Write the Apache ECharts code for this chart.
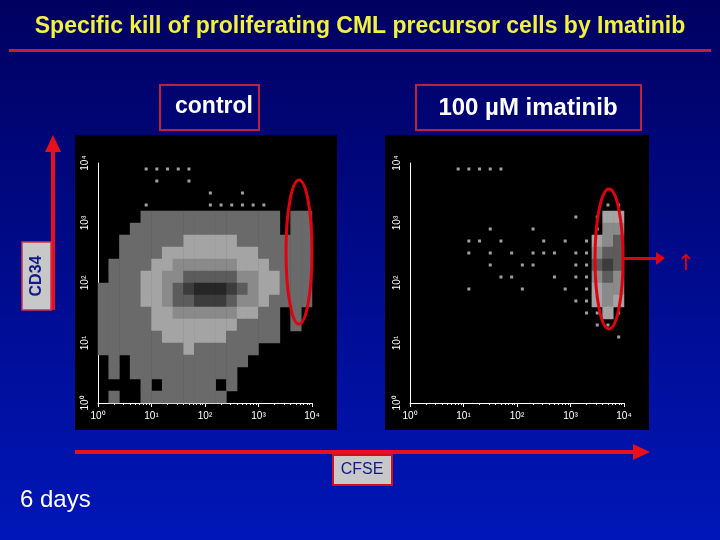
<!DOCTYPE html>
<html><head><meta charset="utf-8">
<script src="https://cdn.jsdelivr.net/npm/echarts@6/dist/echarts.min.js"></script>
<style>html,body{margin:0;padding:0;}#main{width:720px;height:540px;}</style>
</head><body><div id="main"></div>
<script>
// density levels per 0.2-decade cell, rows from top (10^4) to bottom (10^0)
var controlRows = [
  "00001111100000000000",
  "00000100100000000000",
  "00000000001001000000",
  "00001000001111110000",
  "00001111111111111011",
  "00011111111111111011",
  "00111111222221111111",
  "00111122222222211111",
  "01111223333332221111",
  "01112233444443322111",
  "11112234566654322111",
  "11112234455543321111",
  "11111223333332211010",
  "11111222222221111010",
  "11111122222211111000",
  "11111111211111100000",
  "01011111111111000000",
  "01011111111110000000",
  "00001011111010000000",
  "01001111111100000000"
];
var imatinibRows = [
  "00001111100000000000",
  "00000000000000000000",
  "00000000000000000000",
  "00000000000000000011",
  "00000000000000010122",
  "00000001000100000133",
  "00000110100010101234",
  "00000101010111011344",
  "00000001001100011454",
  "00000000110001011343",
  "00000100001000101233",
  "00000000000000011232",
  "00000000000000001121",
  "00000000000000000110",
  "00000000000000000001",
  "00000000000000000000",
  "00000000000000000000",
  "00000000000000000000",
  "00000000000000000000",
  "00000000000000000000"
];
var decadeLabels = ['10⁰', '10¹', '10²', '10³', '10⁴'];
var greys = ['#000000', '#6a6a6a', '#a4a4a4', '#8a8a8a', '#5c5c5c', '#3c3c3c', '#262626'];

// rows [r0, r1) of the grid, cells with level in [minLevel, maxLevel]
function cells(rows, r0, r1, minLevel, maxLevel) {
  var out = [];
  rows.forEach(function (row, r) {
    if (r < r0 || r >= r1) return;
    for (var c = 0; c < row.length; c++) {
      var v = +row[c];
      if (v >= minLevel && v <= maxLevel) out.push([c, rows.length - 1 - r, v]);
    }
  });
  return out;
}
var idx = [];
for (var i = 0; i < 20; i++) idx.push(i);

var grids = [
  { left: 98, top: 163, width: 214, height: 240 },
  { left: 410, top: 163, width: 214, height: 240 }
];
var xAxes = [], yAxes = [];
grids.forEach(function (g, gi) {
  xAxes.push({ type: 'category', data: idx, gridIndex: gi, show: false });
  yAxes.push({ type: 'category', data: idx, gridIndex: gi, show: false });
  xAxes.push({
    type: 'log', min: 1, max: 10000, gridIndex: gi, position: 'bottom',
    axisLine: { lineStyle: { color: '#fff' } },
    axisTick: { lineStyle: { color: '#fff' }, length: 4 },
    minorTick: { show: true, splitNumber: 9, length: 2, lineStyle: { color: '#fff' } },
    splitLine: { show: false },
    axisLabel: { color: '#fff', fontSize: 10, formatter: function (v) { return decadeLabels[Math.round(Math.log10(v))]; } }
  });
  yAxes.push({
    type: 'log', min: 1, max: 10000, gridIndex: gi, position: 'left',
    axisLine: { lineStyle: { color: '#fff' } },
    axisTick: { show: false },
    splitLine: { show: false },
    axisLabel: { color: '#fff', fontSize: 10, rotate: 90, formatter: function (v) { return decadeLabels[Math.round(Math.log10(v))]; } }
  });
});

var dots = { type: 'scatter', symbol: 'rect', symbolSize: 3, itemStyle: { color: '#c8c8c8' } };

var chart = echarts.init(document.getElementById('main'));
chart.setOption({
  animation: false,
  grid: grids,
  xAxis: xAxes,
  yAxis: yAxes,
  visualMap: { show: false, type: 'piecewise', dimension: 2, seriesIndex: [0, 1],
    pieces: [1, 2, 3, 4, 5, 6].map(function (v) { return { value: v, color: greys[v] }; }) },
  graphic: [
    { type: 'rect', z: -10, shape: { x: 0, y: 0, width: 720, height: 540 },
      style: { fill: new echarts.graphic.LinearGradient(0, 0, 0, 1, [{ offset: 0, color: '#000060' }, { offset: 1, color: '#0016b8' }]) } },
    { type: 'rect', z: -5, shape: { x: 75, y: 135, width: 262, height: 295 }, style: { fill: '#000' } },
    { type: 'rect', z: -5, shape: { x: 385, y: 135, width: 264, height: 295 }, style: { fill: '#000' } },
    { type: 'text', x: 360, y: 27, style: { text: 'Specific kill of proliferating CML precursor cells by Imatinib', fill: '#f2f040', font: 'bold 23px Liberation Sans, Arial', align: 'center', verticalAlign: 'middle' } },
    { type: 'rect', shape: { x: 9, y: 49, width: 702, height: 3 }, style: { fill: '#c0203a' } },
    { type: 'rect', shape: { x: 160, y: 85, width: 99, height: 45 }, style: { fill: 'none', stroke: '#c0203a', lineWidth: 2 } },
    { type: 'text', x: 214, y: 107, style: { text: 'control', fill: '#fff', font: 'bold 23px Liberation Sans, Arial', align: 'center', verticalAlign: 'middle' } },
    { type: 'rect', shape: { x: 416, y: 85, width: 225, height: 45 }, style: { fill: 'none', stroke: '#c0203a', lineWidth: 2 } },
    { type: 'text', x: 528, y: 108, style: { text: '100 µM imatinib', fill: '#fff', font: 'bold 24px Liberation Sans, Arial', align: 'center', verticalAlign: 'middle' } },
    // vertical CD34 arrow
    { type: 'rect', shape: { x: 51, y: 150, width: 4, height: 160 }, style: { fill: '#e8101a' } },
    { type: 'polygon', shape: { points: [[45, 152], [61, 152], [53, 135]] }, style: { fill: '#e8101a' } },
    { type: 'rect', shape: { x: 22, y: 242, width: 29, height: 68 }, style: { fill: '#c8c8c8', stroke: '#d03050', lineWidth: 1.5 } },
    { type: 'text', x: 37, y: 276, rotation: Math.PI / 2, style: { text: 'CD34', fill: '#101a8a', font: 'bold 16px Liberation Sans, Arial', align: 'center', verticalAlign: 'middle' } },
    // horizontal CFSE arrow
    { type: 'rect', shape: { x: 75, y: 450, width: 560, height: 4 }, style: { fill: '#e8101a' } },
    { type: 'polygon', shape: { points: [[633, 444], [633, 460], [650, 452]] }, style: { fill: '#e8101a' } },
    { type: 'rect', shape: { x: 333, y: 455, width: 59, height: 30 }, style: { fill: '#c8c8c8', stroke: '#d01020', lineWidth: 2 } },
    { type: 'text', x: 362, y: 470, style: { text: 'CFSE', fill: '#101a8a', font: '16px Liberation Sans, Arial', align: 'center', verticalAlign: 'middle' } },
    { type: 'text', x: 20, y: 500, style: { text: '6 days', fill: '#fff', font: '24px Liberation Sans, Arial', verticalAlign: 'middle' } },
    // gates
    { type: 'ellipse', z: 10, shape: { cx: 299, cy: 252, rx: 13, ry: 72 }, style: { fill: 'none', stroke: '#e00010', lineWidth: 3 } },
    { type: 'ellipse', z: 10, shape: { cx: 609, cy: 259, rx: 14, ry: 70 }, style: { fill: 'none', stroke: '#e00010', lineWidth: 3 } },
    { type: 'rect', z: 10, shape: { x: 624, y: 257, width: 34, height: 3 }, style: { fill: '#e00010' } },
    { type: 'polygon', z: 10, shape: { points: [[656, 252], [656, 265], [665, 258]] }, style: { fill: '#e00010' } },
    { type: 'text', x: 686, y: 264, style: { text: '↑', fill: '#e00010', font: '22px DejaVu Sans', align: 'center', verticalAlign: 'middle' } }
  ],
  series: [
    { type: 'heatmap', xAxisIndex: 0, yAxisIndex: 0, data: cells(controlRows, 4, 20, 1, 6) },
    { type: 'heatmap', xAxisIndex: 2, yAxisIndex: 2, data: cells(imatinibRows, 0, 20, 2, 6) },
    Object.assign({ xAxisIndex: 0, yAxisIndex: 0, data: cells(controlRows, 0, 4, 1, 1) }, dots),
    Object.assign({ xAxisIndex: 2, yAxisIndex: 2, data: cells(imatinibRows, 0, 20, 1, 1) }, dots)
  ]
});
</script></body></html>
